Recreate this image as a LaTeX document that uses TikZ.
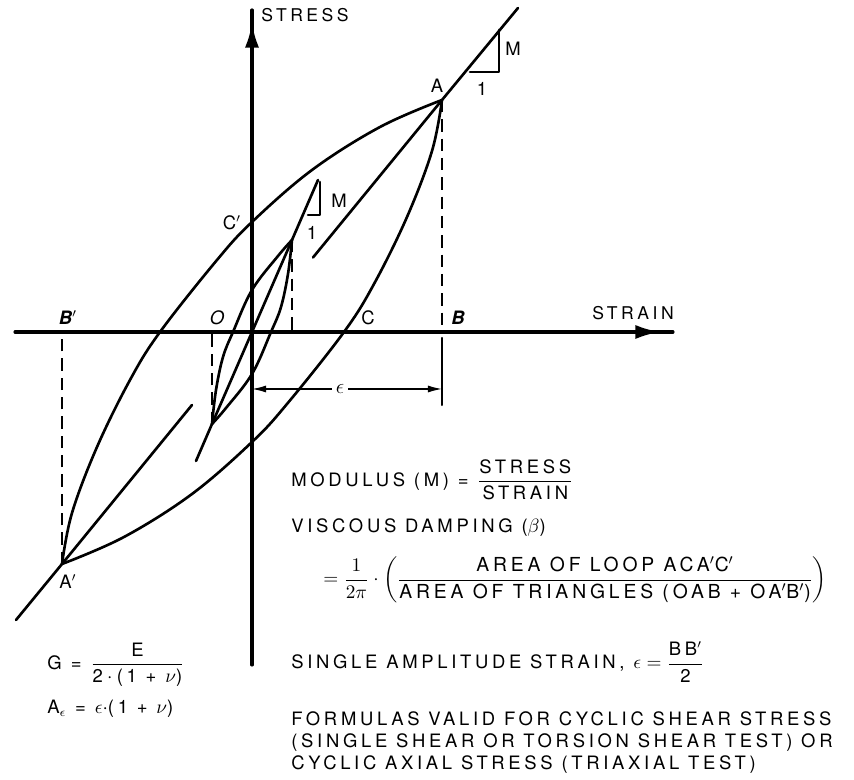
\documentclass[tikz,border=0pt]{standalone}
\usepackage{amsmath}
\usepackage{fontspec}
\setmainfont{TeX Gyre Heros}
\newfontfamily\lettering[LetterSpace=20]{TeX Gyre Heros}
\usetikzlibrary{arrows.meta}

\begin{document}
\begin{tikzpicture}[x=2cm, y=2cm, line join=round, line cap=round,
    axis/.style={line width=1.8pt},
    curve/.style={line width=1.5pt},
    guide/.style={line width=1.2pt, dash pattern=on 7pt off 4pt, line cap=butt},
    head/.style={-{Latex[length=14pt,width=8pt]}, line width=1.8pt},
    pt/.style={font=\fontsize{10.5}{12}\selectfont\lettering, inner sep=1pt},
    txt/.style={anchor=west, inner sep=0pt, align=left,
        font=\fontsize{10.5}{12.5}\selectfont\lettering}]
    \useasboundingbox (-2.52,-4.48) rectangle (6.02,3.32);
    % axes
    \path (0,0) coordinate(O) (0,-3.33) coordinate(Sb) (0,3.22) coordinate(St)
        (-2.37,0) coordinate(Xl) (4.21,0) coordinate(Xr)
        (0,2.80) coordinate(Sh) (0,3.09) coordinate(Stip)
        (3.84,0) coordinate(Xh) (4.08,0) coordinate(Xtip);
    \draw[axis] (Sb)--(St) (Xl)--(Xr);
    \draw[head] (Sh)--(Stip);
    \draw[head] (Xh)--(Xtip);
    \node[pt, font=\fontsize{10}{12}\selectfont\lettering] (stress) at (0.53,3.17) {STRESS};
    \node[pt, font=\fontsize{10}{12}\selectfont\lettering] (strain) at (3.81,0.19) {STRAIN};
    % points of the loops
    \path (1.90,2.32) coordinate(A) (-1.90,-2.32) coordinate(Ap)
        (1.90,0) coordinate(B) (-1.90,0) coordinate(Bp)
        (0.40,0.92) coordinate(T) (-0.40,-0.92) coordinate(Tp)
        (0.40,0) coordinate(Tb) (-0.40,0) coordinate(Tpb);
    % secant lines
    \draw[curve] (-2.36,-2.88) coordinate(L1) -- (Ap) -- (-0.60,-0.73) coordinate(L2);
    \draw[curve] (0.61,0.745) coordinate(U1) -- (A) -- (2.66,3.24) coordinate(U2);
    \draw[curve] (-0.56,-1.29) coordinate(S1) -- (Tp) -- (T) -- (0.66,1.52) coordinate(S2);
    % slope triangles
    \draw[curve] (2.18,2.60) -- (2.47,2.60) -- (2.47,3.02);
    \node[pt] (one1) at (2.30,2.43) {1};
    \node[pt] (m1) at (2.61,2.83) {M};
    \draw[curve] (0.56,1.17) -- (0.68,1.17) -- (0.68,1.50);
    \node[pt] (one2) at (0.60,0.99) {1};
    \node[pt] (m2) at (0.87,1.31) {M};
    % hysteresis loops
    \foreach \r in {0,180} {
        \draw[curve, rotate=\r] plot[smooth, tension=0.6] coordinates {(-1.90,-2.32) (-1.80,-1.81) (-1.55,-1.15) (-1.22,-0.48) (-0.92,0) (-0.35,0.72) (0,1.10) (0.60,1.62) (1.28,2.05) (1.90,2.32)};
        \draw[curve, rotate=\r] plot[smooth, tension=0.6] coordinates {(-0.40,-0.92) (-0.36,-0.58) (-0.29,-0.25) (-0.19,0) (0,0.42) (0.26,0.76) (0.40,0.92)};
    }
    % guides
    \draw[guide] (A)--(B) (Ap)--(Bp) (T)--(Tb) (Tp)--(Tpb);
    \draw[line width=1.2pt] (1.90,-0.06) coordinate(Bt) -- (1.90,-0.73) coordinate(Bb);
    \path (0,-0.57) coordinate(E1) (1.90,-0.57) coordinate(E2);
    \draw[{Latex[length=8pt,width=4pt]}-{Latex[length=8pt,width=4pt]}, line width=0.8pt] (E1) -- (E2);
    \node[fill=white, inner sep=2pt, font=\fontsize{13}{15}\selectfont] (eps) at (0.88,-0.57) {$\epsilon$};
    % point labels
    \node[pt] (lA) at (1.85,2.46) {A};
    \node[pt] (lAp) at (-1.84,-2.50) {A$'$};
    \node[pt, font=\fontsize{10.5}{12}\selectfont\lettering\bfseries\itshape] (lB) at (2.06,0.14) {B};
    \node[pt, font=\fontsize{10.5}{12}\selectfont\lettering\bfseries\itshape] (lBp) at (-1.84,0.14) {B$'$};
    \node[pt, font=\fontsize{10.5}{12}\selectfont\lettering\itshape] (lO) at (-0.35,0.14) {O};
    \node[pt] (lC) at (1.16,0.14) {C};
    \node[pt] (lCp) at (-0.20,1.09) {C$'$};
    % formulas
    \node[txt] (modulus) at (0.39,-1.48) {MODULUS (M) = $\dfrac{\text{STRESS}}{\text{STRAIN}}$};
    \node[txt] (damping) at (0.39,-1.96) {VISCOUS DAMPING ($\beta$)};
    \node[txt, font=\fontsize{11}{13}\selectfont\lettering] (ratio) at (0.71,-2.48) {$=\dfrac{1}{2\pi}\cdot\left(\dfrac{\text{AREA OF LOOP ACA$'$C$'$}}{\text{AREA OF TRIANGLES (OAB + OA$'$B$'$)}}\right)$};
    \node[txt] (single) at (0.39,-3.30) {SINGLE AMPLITUDE STRAIN, $\epsilon = \dfrac{\text{BB$'$}}{\text{2}}$};
    \node[txt] (valid) at (0.39,-4.11) {FORMULAS VALID FOR CYCLIC SHEAR STRESS\\(SINGLE SHEAR OR TORSION SHEAR TEST) OR\\CYCLIC AXIAL STRESS (TRIAXIAL TEST)};
    \node[txt] (gmod) at (-2.05,-3.33) {G\enspace = $\dfrac{\text{E}}{\text{2}\cdot\text{(1 + }\nu\text{)}}$};
    \node[txt] (aeps) at (-2.05,-3.77) {A$_{\epsilon}$ = $\epsilon\cdot$(1 + $\nu$)};
\end{tikzpicture}
\end{document}
